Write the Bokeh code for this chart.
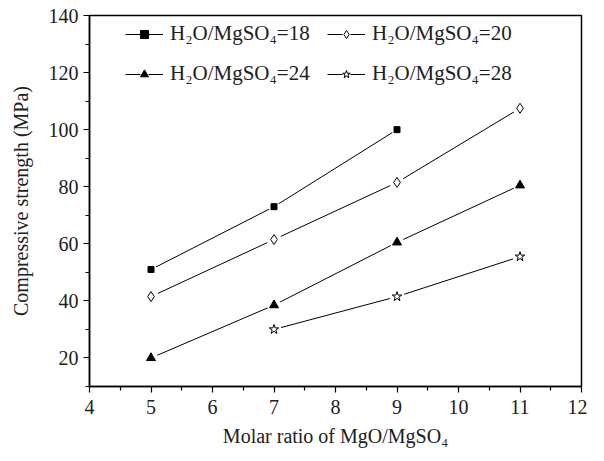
from bokeh.plotting import figure
from bokeh.models import Range1d, Legend, LegendItem, FixedTicker
from bokeh.embed import file_html
from bokeh.resources import INLINE

x18 = [5, 7, 9]
y18 = [51, 73, 100]
x20 = [5, 7, 9, 11]
y20 = [41.5, 61.5, 81.5, 107.5]
x24 = [5, 7, 9, 11]
y24 = [20, 38.5, 60.5, 80.5]
x28 = [7, 9, 11]
y28 = [30, 41.5, 55.5]
labels = ["H\u2082O/MgSO\u2084=18", "H\u2082O/MgSO\u2084=20",
          "H\u2082O/MgSO\u2084=24", "H\u2082O/MgSO\u2084=28"]

FONT = "Liberation Serif"

p = figure(width=588, height=455, output_backend="svg", toolbar_location=None,
           x_range=Range1d(4, 12), y_range=Range1d(10, 140),
           min_border_left=89, min_border_right=6, min_border_top=15, min_border_bottom=69,
           frame_width=492, frame_height=371)
p.grid.visible = False
p.outline_line_color = "black"
p.outline_line_width = 1.5
p.background_fill_color = "white"
p.border_fill_color = "white"

for ax in (p.xaxis[0], p.yaxis[0]):
    ax.axis_line_width = 1.5
    ax.major_tick_line_width = 1.2
    ax.minor_tick_line_width = 1.2
    ax.major_tick_out = 6
    ax.major_tick_in = 0
    ax.minor_tick_out = 4
    ax.minor_tick_in = 0
    ax.major_label_text_font = FONT
    ax.major_label_text_font_size = "20px"
    ax.major_label_text_color = "#202020"
    ax.axis_label_text_font = FONT
    ax.axis_label_text_font_size = "20px"
    ax.axis_label_text_font_style = "normal"
    ax.axis_label_text_color = "#202020"

p.xaxis.ticker = FixedTicker(ticks=list(range(4, 13)), minor_ticks=[4.5 + i for i in range(8)])
p.yaxis.ticker = FixedTicker(ticks=list(range(20, 141, 20)), minor_ticks=list(range(10, 141, 20)))
p.xaxis.axis_label = "Molar ratio of MgO/MgSO\u2084"
p.yaxis.axis_label = "Compressive strength (MPa)"
p.xaxis.major_label_standoff = 7
p.xaxis.axis_label_standoff = 8
p.yaxis.major_label_standoff = 5
p.yaxis.axis_label_standoff = 14


def series(xs, ys, marker, size, fill):
    ln = p.line(xs, ys, line_color="black", line_width=1)
    gap = p.scatter(xs, ys, marker="circle", size=size + 5, fill_color="white", line_color=None)
    mk = p.scatter(xs, ys, marker=marker, size=size, fill_color=fill, line_color="black")
    return [ln, gap, mk]


r18 = series(x18, y18, "square", 6, "black")
r20 = series(x20, y20, "diamond", 10, "white")
r24 = series(x24, y24, "triangle", 9, "black")
r28 = series(x28, y28, "star", 10, "white")

items = [
    LegendItem(label=labels[0], renderers=r18),
    LegendItem(label=labels[2], renderers=r24),
    LegendItem(label=labels[1], renderers=r20),
    LegendItem(label=labels[3], renderers=r28),
]

legend = Legend(items=items, ncols=2, location=(36, 300))
legend.border_line_color = None
legend.background_fill_alpha = 0
legend.label_text_font = FONT
legend.label_text_font_size = "21px"
legend.label_text_color = "#202020"
legend.glyph_width = 38
legend.glyph_height = 20
legend.spacing = 15
legend.padding = 4
legend.margin = 0
legend.label_standoff = 7
legend.label_width = 142
p.add_layout(legend)

open("out.html", "w").write(file_html(p, INLINE))
